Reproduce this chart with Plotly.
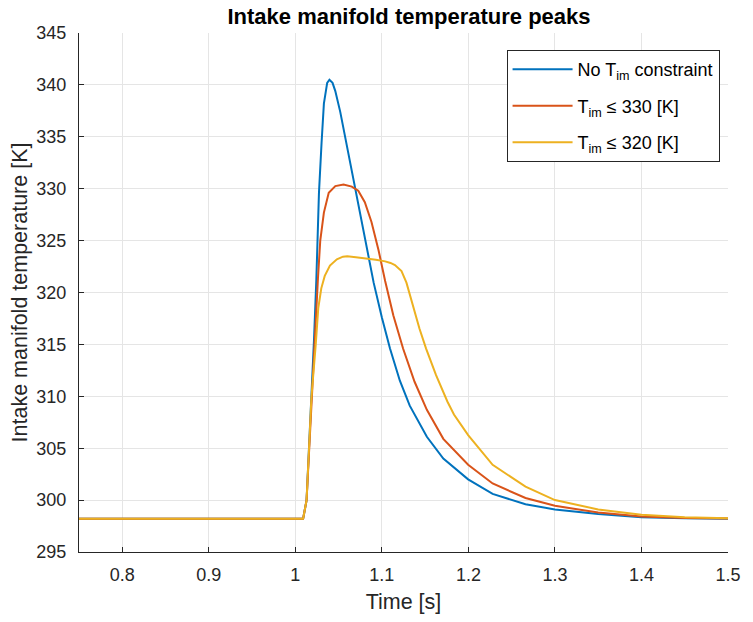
import plotly.graph_objects as go

# ---- data ----
t_blue = [0.75, 1.009, 1.013, 1.016, 1.0186, 1.0216, 1.0243, 1.0273, 1.0303, 1.033, 1.0368, 1.0394,
          1.0430, 1.0462, 1.0519, 1.0576, 1.0633, 1.069, 1.0766, 1.083, 1.0905, 1.1, 1.1094, 1.1208,
          1.1322, 1.152, 1.171, 1.1997, 1.228, 1.266, 1.30, 1.35, 1.40, 1.45, 1.50]
T_blue = [298.2, 298.2, 300.0, 305.0, 309.9, 315.5, 321.3, 329.6, 334.4, 338.2, 340.2, 340.5,
          340.2, 339.4, 337.4, 335.0, 332.5, 330.0, 326.8, 324.1, 320.95, 317.6, 314.6, 311.5,
          309.1, 306.1, 304.0, 302.0, 300.6, 299.6, 299.1, 298.65, 298.35, 298.25, 298.2]

t_red = [0.75, 1.009, 1.013, 1.016, 1.0186, 1.0225, 1.0261, 1.0288, 1.033, 1.0386, 1.0462, 1.0557,
         1.0652, 1.0727, 1.0803, 1.088, 1.0961, 1.1038, 1.1132, 1.1245, 1.1378, 1.152, 1.171, 1.1997,
         1.228, 1.266, 1.30, 1.35, 1.40, 1.45, 1.50]
T_red = [298.2, 298.2, 300.0, 305.0, 309.9, 315.2, 321.3, 325.0, 327.7, 329.6, 330.25, 330.4,
         330.2, 329.8, 328.7, 326.8, 324.1, 321.1, 317.8, 314.6, 311.4, 308.7, 305.9, 303.4,
         301.6, 300.2, 299.45, 298.8, 298.42, 298.28, 298.22]

t_yel = [0.75, 1.009, 1.013, 1.016, 1.0186, 1.0235, 1.0265, 1.030, 1.034, 1.040, 1.048, 1.055,
         1.060, 1.070, 1.081, 1.0930, 1.1038, 1.110, 1.1151, 1.1195, 1.1227, 1.1284, 1.1359, 1.1435,
         1.1511, 1.1625, 1.1757, 1.1833, 1.1997, 1.228, 1.266, 1.30, 1.35, 1.40, 1.45, 1.50]
T_yel = [298.2, 298.2, 300.0, 305.0, 309.9, 314.9, 318.5, 320.4, 321.6, 322.6, 323.2, 323.45,
         323.5, 323.4, 323.3, 323.15, 323.0, 322.85, 322.65, 322.35, 322.06, 320.95, 318.7, 316.5,
         314.6, 312.06, 309.5, 308.25, 306.26, 303.4, 301.3, 300.0, 299.1, 298.6, 298.35, 298.25]

names = ["No T<sub>im</sub> constraint", "T<sub>im</sub> \u2264 330 [K]", "T<sub>im</sub> \u2264 320 [K]"]
colors = ["#0072BD", "#D95319", "#EDB120"]

x_ticks = [0.8, 0.9, 1.0, 1.1, 1.2, 1.3, 1.4, 1.5]
x_ticklabels = ["0.8", "0.9", "1", "1.1", "1.2", "1.3", "1.4", "1.5"]
y_ticks = [295, 300, 305, 310, 315, 320, 325, 330, 335, 340, 345]

FONT = "Liberation Sans, Arial, Helvetica, sans-serif"
TXT = "#262626"

fig = go.Figure()
for i, (t, T, n, c) in enumerate(zip([t_blue, t_red, t_yel], [T_blue, T_red, T_yel], names, colors)):
    fig.add_trace(go.Scatter(x=t, y=T, mode="lines", name=n, legendgroup=f"g{i}",
                             line=dict(color=c, width=2)))

axis_common = dict(showgrid=True, gridcolor="#E5E5E5", gridwidth=1,
                   showline=True, linecolor=TXT, linewidth=1,
                   ticks="inside", ticklen=5, tickcolor=TXT, tickwidth=1,
                   tickfont=dict(family=FONT, size=18, color=TXT),
                   zeroline=False, mirror=False)

fig.update_layout(
    width=753, height=622,
    margin=dict(l=79, r=14, t=33, b=68),
    paper_bgcolor="white", plot_bgcolor="white",
    font=dict(family=FONT, color=TXT),
    title=dict(text="<b>Intake manifold temperature peaks</b>",
               x=(79 + 739) / 2 / 753, xanchor="center",
               y=1 - 16 / 622, yanchor="middle",
               font=dict(family=FONT, size=22, color="#000000")),
    xaxis=dict(range=[0.75, 1.5], tickvals=x_ticks, ticktext=x_ticklabels,
               title=dict(text="Time [s]", font=dict(family=FONT, size=21.5, color=TXT), standoff=10),
               ticklabelstandoff=6, **axis_common),
    yaxis=dict(range=[295, 345], tickvals=y_ticks,
               title=dict(text="Intake manifold temperature [K]",
                          font=dict(family=FONT, size=21.5, color=TXT), standoff=2),
               ticklabelstandoff=8, **axis_common),
    legend=dict(x=0.987, y=0.967, xanchor="right", yanchor="top",
                bgcolor="white", bordercolor=TXT, borderwidth=1,
                font=dict(family=FONT, size=18, color="#000000"),
                tracegroupgap=10, itemwidth=60),
    showlegend=True,
)

fig.write_html("out.html")
